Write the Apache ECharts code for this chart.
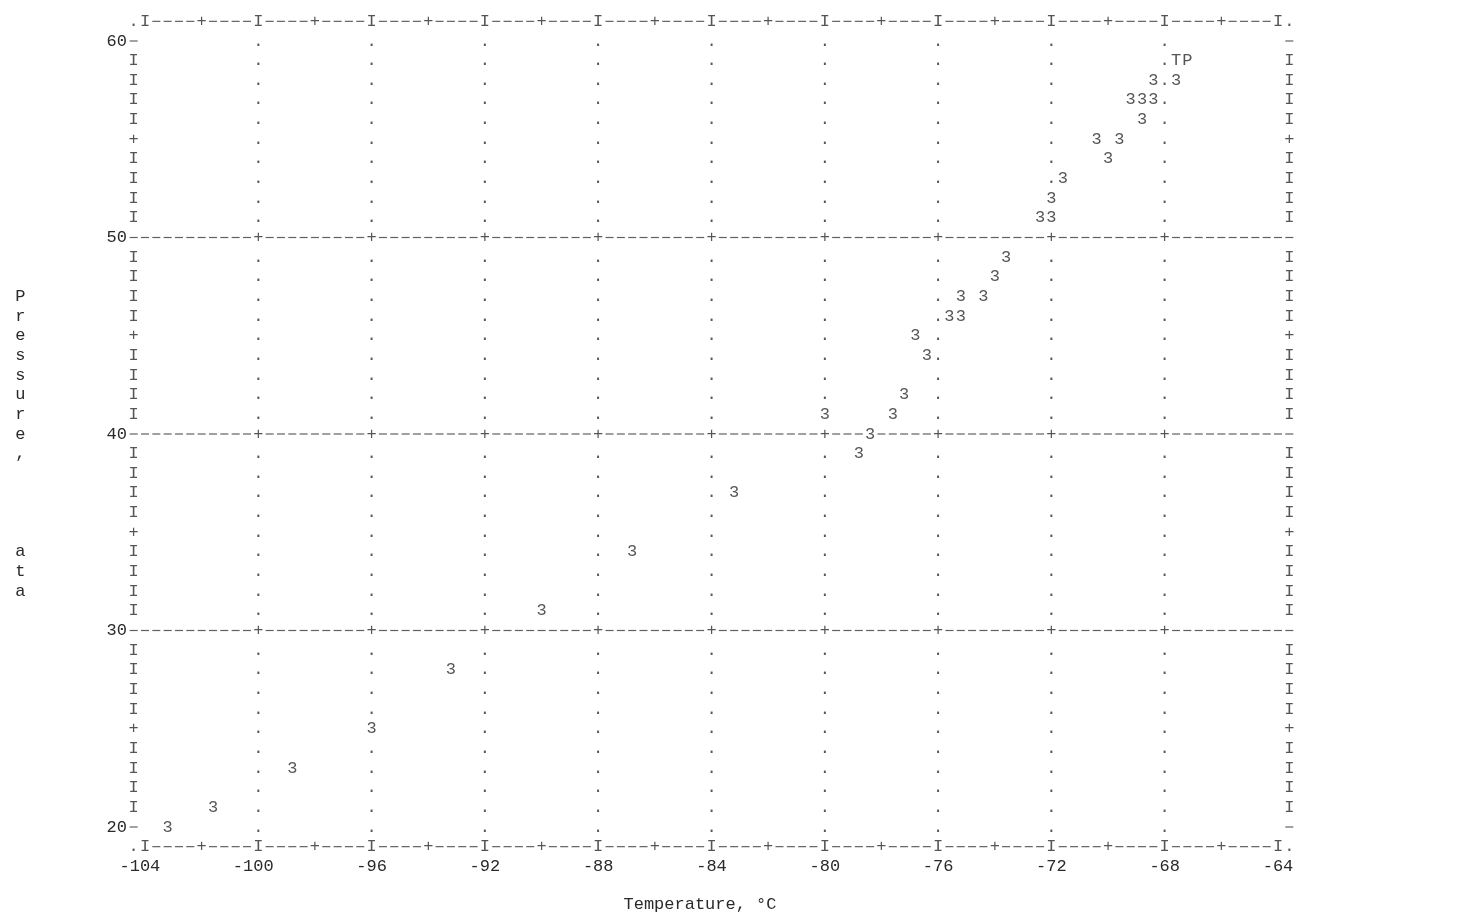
<!DOCTYPE html>
<html>
<head>
<meta charset="utf-8">
<script src="https://cdn.jsdelivr.net/npm/echarts@6/dist/echarts.min.js"></script>
<style>
html,body{margin:0;padding:0;background:#fff;}
#chart{width:1479px;height:922px;}
</style>
</head>
<body>
<div id="chart"></div>
<script>
// ---- data ----
const temperature = [-103.2, -101.6, -98.8, -96.0, -93.2, -90.0, -86.8, -83.2,
  -80.0, -78.8, -78.4, -77.6, -77.2, -76.4, -76.8, -75.6, -75.2, -75.2, -74.4,
  -74.0, -73.6, -72.4, -72.0, -72.0, -71.6, -70.0, -70.4, -69.6, -68.8, -69.2,
  -68.8, -68.4, -68.4, -67.6];
const pressure = [20, 21, 23, 25, 28, 31, 34, 37,
  41, 39, 40, 41, 42, 44, 45, 46, 46, 47, 47,
  48, 49, 51, 51, 52, 53, 54, 55, 55, 56, 57,
  57, 57, 58, 58];
const pointSymbol = '3';

// triple point annotation
const tpTemperature = -67.6;
const tpPressure = 59;
const tpText = 'TP';

// axis ticks and titles
const xTicks = [-104, -100, -96, -92, -88, -84, -80, -76, -72, -68, -64];
const yTicks = [20, 30, 40, 50, 60];
const xTitle = 'Temperature, \u00B0C';
const yTitle = 'Pressure,    ata';

// ---- character grid of the printer plot (one column = 0.4 deg, one line = 1 ata) ----
const xStep = 0.4, yStep = 1;
const FONT = 'Liberation Mono';
const FS = 17;
const INK = '#2a2a2a';

const xMin = xTicks[0], xMax = xTicks[xTicks.length - 1];
const yMin = yTicks[0], yMax = yTicks[yTicks.length - 1];
const colsPerTick = Math.round((xTicks[1] - xTicks[0]) / xStep);
const rowsPerTick = Math.round((yTicks[1] - yTicks[0]) / yStep);
const lastCol = Math.round((xMax - xMin) / xStep);
const colOf = t => Math.round((t - xMin) / xStep);
const tOf = c => +(xMin + c * xStep).toFixed(2);

const occupied = new Set();
temperature.forEach((t, i) => occupied.add(colOf(t) + ',' + pressure[i]));
const tpCells = tpText.split('').map((ch, k) => [tOf(colOf(tpTemperature) + k), tpPressure, ch]);
tpCells.forEach(d => occupied.add(colOf(d[0]) + ',' + d[1]));

const textCells = [];
const dashCells = [];
for (let p = yMin - yStep; p <= yMax + yStep; p += yStep) {
  const border = (p === yMin - yStep || p === yMax + yStep);
  const gridRow = !border && p !== yMin && p !== yMax && (p - yMin) % rowsPerTick === 0;
  for (let c = -1; c <= lastCol + 1; c++) {
    if (occupied.has(c + ',' + p)) continue;
    const frameCol = (c === -1 || c === lastCol + 1);
    const inner = c > 0 && c < lastCol;
    let ch = '';
    if (border) {
      if (frameCol) ch = '.';
      else if (c % colsPerTick === 0) ch = 'I';
      else if (c % (colsPerTick / 2) === 0) ch = '+';
      else ch = '-';
    } else if (gridRow) {
      ch = (inner && c % colsPerTick === 0) ? '+' : '-';
    } else if (frameCol) {
      const r = p - yMin;
      ch = r % rowsPerTick === 0 ? '-' : (r % (rowsPerTick / 2) === 0 ? '+' : 'I');
    } else if (inner && c % colsPerTick === 0) {
      ch = '.';
    }
    if (!ch) continue;
    if (ch === '-') dashCells.push([tOf(c), p]);
    else textCells.push([tOf(c), p, ch]);
  }
}

const labelStyle = {
  show: true, position: 'inside', fontFamily: FONT, fontSize: FS, color: INK,
  align: 'center', verticalAlign: 'middle'
};

const chart = echarts.init(document.getElementById('chart'), null, {renderer: 'canvas'});
chart.setOption({
  animation: false,
  backgroundColor: '#fff',
  grid: {left: 145, right: 201, top: 41, bottom: 95, containLabel: false, outerBoundsMode: 'none'},
  xAxis: {
    type: 'value', min: xMin, max: xMax, interval: xTicks[1] - xTicks[0],
    axisLine: {show: false}, axisTick: {show: false}, splitLine: {show: false},
    axisLabel: {
      margin: 39.3, verticalAlign: 'middle', align: 'center',
      fontFamily: FONT, fontSize: FS, color: INK,
      formatter: v => String(v).length > 3 ? String(v) + ' ' : String(v)
    },
    name: xTitle, nameLocation: 'middle', nameGap: 77,
    nameTextStyle: {fontFamily: FONT, fontSize: FS, color: INK, verticalAlign: 'middle', align: 'center', padding: [0, 23, 0, 0]}
  },
  yAxis: {
    type: 'value', min: yMin, max: yMax, interval: yTicks[1] - yTicks[0],
    axisLine: {show: false}, axisTick: {show: false}, splitLine: {show: false},
    axisLabel: {margin: 28.3, align: 'center', verticalAlign: 'middle', fontFamily: FONT, fontSize: FS, color: INK},
    name: '\n' + yTitle.split('').join('\n'), nameLocation: 'middle', nameRotate: 0, nameGap: 119.6,
    nameTextStyle: {fontFamily: FONT, fontSize: FS, color: INK, lineHeight: 19.65}
  },
  series: [
    {
      type: 'scatter', silent: true, clip: false, symbol: 'rect', symbolSize: [8, 1.2],
      itemStyle: {color: '#3a3a3a'}, data: dashCells, z: 2
    },
    {
      type: 'scatter', silent: true, clip: false, symbolSize: 0,
      itemStyle: {color: 'rgba(0,0,0,0)'},
      label: Object.assign({}, labelStyle, {formatter: p => p.value[2]}),
      data: textCells, z: 3
    },
    {
      name: 'Pressure', type: 'scatter', silent: true, clip: false, symbolSize: 0,
      itemStyle: {color: 'rgba(0,0,0,0)'},
      label: Object.assign({}, labelStyle, {formatter: pointSymbol}),
      data: temperature.map((t, i) => [t, pressure[i]]), z: 4
    },
    {
      type: 'scatter', silent: true, clip: false, symbolSize: 0,
      itemStyle: {color: 'rgba(0,0,0,0)'},
      label: Object.assign({}, labelStyle, {formatter: p => p.value[2]}),
      data: tpCells, z: 4
    }
  ]
});
</script>
</body>
</html>
